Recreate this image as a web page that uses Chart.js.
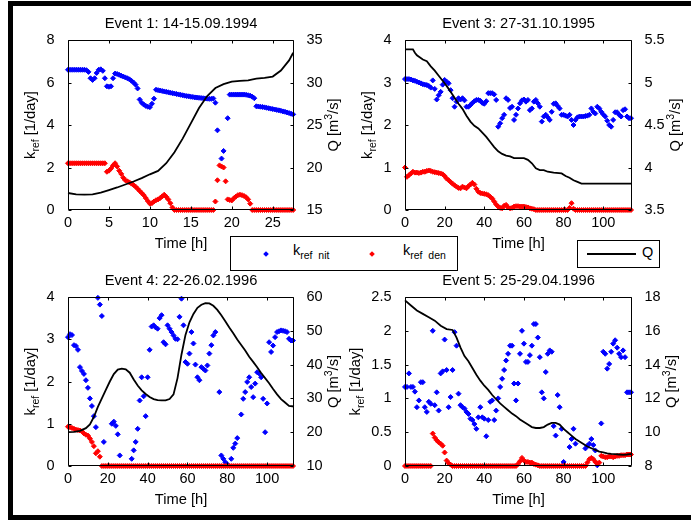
<!DOCTYPE html>
<html>
<head>
<meta charset="utf-8">
<script src="https://cdn.jsdelivr.net/npm/chart.js@4.4.1/dist/chart.umd.min.js"></script>
<style>
  body { margin: 0; width: 691px; height: 521px; overflow: hidden; position: relative; background: #fff;
         font-family: Arial, "Liberation Sans", Helvetica, sans-serif; color: #000; }
  canvas { position: absolute; }
  .frame { position: absolute; left: 8px; top: 1px; width: 720px; height: 509px;
           border: 5px solid #000; border-right: none; z-index: 3; }
  .legend { position: absolute; background: #fff; border: 1px solid #000; box-sizing: border-box; z-index: 2; }
  .legend span { position: absolute; font-size: 14.5px; white-space: pre; }
  .legend sub { font-size: 10.5px; vertical-align: -4px; }
  .dia { position: absolute; width: 4px; height: 4px; transform: rotate(45deg); }
</style>
</head>
<body>
<canvas id="ev1" width="345" height="262" style="left:0;top:0"></canvas>
<canvas id="ev3" width="346" height="262" style="left:345px;top:0"></canvas>
<canvas id="ev4" width="345" height="259" style="left:0;top:262px"></canvas>
<canvas id="ev5" width="346" height="259" style="left:345px;top:262px"></canvas>

<div class="legend" style="left:230px;top:236px;width:228px;height:35px">
  <div class="dia" style="left:33px;top:15px;background:#0000ff"></div>
  <span style="left:62px;top:5px">k<sub>ref  nit</sub></span>
  <div class="dia" style="left:139px;top:15px;background:#ff0000"></div>
  <span style="left:172px;top:5px">k<sub>ref  den</sub></span>
</div>
<div class="legend" style="left:577px;top:240px;width:83px;height:28px">
  <div style="position:absolute;left:9px;top:12px;width:49px;height:2px;background:#000"></div>
  <span style="left:64px;top:3px">Q</span>
</div>
<div class="frame"></div>

<script>
// k_ref values per time step; null where no estimate was plotted
const e1Step = 0.25;
const e1Nit = [6.6,6.6,6.6,6.6,6.6,6.6,6.6,6.6,6.6,6.58,
  6.5,6.2,6.12,6.2,6.45,6.6,6.62,6.55,6.2,5.82,
  5.8,5.82,6.2,6.42,6.4,6.36,6.32,6.28,6.24,6.2,
  6.15,6.08,6.0,5.9,5.72,5.2,5.05,4.96,4.9,4.86,
  4.84,5.0,5.24,5.66,5.64,5.62,5.6,5.58,5.56,5.54,
  5.52,5.5,5.48,5.46,5.44,5.42,5.4,5.38,5.36,5.35,
  5.33,5.32,5.3,5.29,5.28,5.27,5.26,5.25,5.24,5.23,
  5.23,5.25,5.05,3.75,null,2.42,2.78,null,4.32,5.43,
  5.43,5.43,5.43,5.43,5.43,5.43,5.43,5.42,5.4,5.38,
  5.33,5.26,4.88,4.87,4.86,4.85,4.83,4.81,4.79,4.77,
  4.75,4.73,4.71,4.69,4.67,4.64,4.62,4.59,4.56,4.53,4.5];
const e1Den = [2.2,2.2,2.2,2.2,2.2,2.2,2.2,2.2,2.2,2.2,
  2.2,2.2,2.2,2.2,2.2,2.2,2.2,2.2,2.2,1.8,
  1.85,1.95,2.1,2.2,2.05,1.85,1.7,1.52,1.4,1.35,
  1.3,1.24,1.18,1.1,1.0,0.9,0.8,0.7,0.56,0.42,
  0.3,0.32,0.4,0.46,0.5,0.56,0.64,0.72,0.62,0.5,
  0.32,0.12,0,0,0,0,0,0,0,0,
  0,0,0,0,0,0,0,0,0,0,
  0,0,0.4,1.4,2.1,2.05,2.0,1.35,0.5,0.47,
  0.45,0.55,0.63,0.7,0.72,0.7,0.66,0.6,0.5,0.3,
  0,0,0,0,0,0,0,0,0,0,
  0,0,0,0,0,0,0,0,0,0,0];
const e1QTime = [0,1,2,3,4,5,6,7,8,9,10,11,12,13,14,15,16,17,18,19,20,21,22,23,24,25,26,27,27.5];
const e1QFlow = [17.0,16.85,16.8,16.85,17.05,17.35,17.65,18.0,18.35,18.75,19.2,19.6,20.5,21.8,23.4,
  25.2,27.0,28.4,29.35,29.8,30.1,30.2,30.25,30.45,30.55,30.7,31.4,32.6,33.5];

const e3Step = 1;
const e3Nit = [3.08,3.08,3.08,3.07,3.05,3.04,3.02,3.0,2.98,2.96,
  2.95,2.94,2.92,2.88,3.05,2.85,2.6,2.7,2.78,2.95,
  3.06,3.02,2.98,2.82,2.63,2.43,2.55,2.63,2.6,2.63,
  2.58,2.43,2.43,2.47,2.52,2.56,2.59,2.59,2.57,2.52,
  2.5,2.56,2.75,2.75,2.75,2.72,2.59,1.96,2.04,2.16,
  2.24,2.63,2.59,2.4,2.43,2.12,2.24,2.39,2.51,2.58,
  2.6,2.55,2.59,2.35,2.39,2.55,2.59,2.51,2.43,2.08,
  2.2,2.24,2.18,2.12,2.31,2.5,2.51,2.45,2.39,2.24,
  2.24,2.22,2.2,2.24,2.12,2.0,2.12,2.18,2.2,2.2,
  2.2,2.21,2.22,2.24,2.39,2.31,2.27,2.43,2.39,2.31,
  2.25,2.2,2.1,2.0,1.96,2.12,2.3,2.3,2.24,2.2,
  2.35,2.37,2.2,2.16,2.16];
const e3Den = [1.0,0.78,0.82,0.86,0.9,0.88,0.88,0.87,0.88,0.9,
  0.9,0.92,0.93,0.92,0.9,0.89,0.88,0.87,0.86,0.84,
  0.8,0.74,0.7,0.66,0.62,0.58,0.55,0.52,0.51,0.55,
  0.53,0.51,0.56,0.6,0.64,0.6,0.5,0.43,0.4,0.39,
  0.38,0.37,0.35,0.31,0.27,0.2,0.13,0.08,0.05,0.04,
  0.1,0.12,0.06,0.04,0.05,0.08,0.09,0.09,0.08,0.08,
  0.08,0.07,0.06,0.04,0.03,0.02,0,0,0,0,
  0,0,0,0,0,0,0,0,0,0,
  0,0,0,0.05,0.16,0.03,0,0,0,0,
  0,0,0,0,0,0,0,0,0,0,
  0,0,0,0,0,0,0,0,0,0,
  0,0,0,0,0];
const e3QTime = [0,4,5,6,9,11,13,15,17,19,21,23,25,27,29,31,33,35,37,39,
  41,43,45,47,49,51,53,55,60,62,64,66,68,70,72,75,79,81,83,85,87,89,114.5];
const e3QFlow = [5.39,5.39,5.35,5.32,5.27,5.25,5.19,5.14,5.08,5.02,4.96,4.89,4.82,4.75,4.69,4.61,4.54,4.49,4.46,4.41,
  4.36,4.3,4.24,4.19,4.16,4.14,4.13,4.11,4.11,4.09,4.05,3.99,3.97,3.97,3.95,3.94,3.93,3.9,3.88,3.85,3.83,3.81,3.81];

const e4Step = 1;
const e4Nit = [3.05,3.12,3.1,2.86,2.84,2.75,2.34,2.25,2.18,2.03,
  1.85,1.6,1.42,1.18,0.92,3.98,3.82,3.55,0.57,null,
  null,null,1.0,1.05,0.95,0.75,0.25,null,null,null,
  null,null,0.17,0.37,0.57,0.88,1.55,2.1,1.65,1.18,
  2.1,2.75,3.3,3.33,3.28,3.25,3.5,3.57,2.93,2.88,
  3.33,3.25,3.17,3.09,3.01,3.0,3.53,3.96,3.33,2.46,
  2.42,2.66,3.17,2.9,2.4,2.1,2.03,2.34,2.3,2.26,
  2.38,2.66,2.86,3.09,3.17,null,1.75,0.25,0.17,0.09,
  0.04,null,0.17,0.43,0.53,0.66,null,1.22,1.59,1.75,
  1.99,2.1,1.87,1.63,1.95,2.22,2.19,2.1,1.59,0.8,
  1.48,2.93,2.7,2.85,3.05,3.17,3.19,3.21,3.2,3.19,
  3.17,3.01,2.97,2.97];
const e4Den = [0.93,0.92,0.9,0.88,0.86,0.85,0.84,0.82,0.77,0.74,
  0.72,0.65,0.57,0.47,0.3,0.35,0.22,0,0,0,
  0,0,0,0,0,0,0,0,0,0,
  0,0,0,0,0,0,0,0,0,0,
  0,0,0,0,0,0,0,0,0,0,
  0,0,0,0,0,0,0,0,0,0,
  0,0,0,0,0,0,0,0,0,0,
  0,0,0,0,0,0,0,0,0,0,
  0,0,0,0,0,0,0,0,0,0,
  0,0,0,0,0,0,0,0,0,0,
  0,0,0,0,0,0,0,0,0,0,
  0,0,0,0];
const e4QTime = [0,3,6,9,11,13,15,17,19,21,23,25,27,29,31,33,35,37,39,41,43,45,47,49,51,53,55,57,
  59,61,63,65,67,69,71,73,75,77,79,81,83,85,87,89,91,93,95,97,99,101,103,105,107,109,111,113.5];
const e4QFlow = [20.0,20.1,20.4,21.2,22.3,24.5,27.5,30.0,32.5,35.0,37.2,38.5,38.8,38.6,37.6,35.6,33.8,32.4,
  31.3,30.4,29.8,29.5,29.4,29.4,29.8,31.2,36.0,43.0,48.8,52.5,55.0,56.8,57.7,58.2,58.1,57.4,56.2,54.6,
  52.8,51.0,49.3,47.4,45.8,44.2,42.3,40.8,39.2,37.5,36.0,34.5,32.8,31.2,29.8,28.8,27.8,27.6];

const e5Step = 1;
const e5Nit = [1.17,1.17,1.37,1.17,1.17,1.1,0.87,0.97,1.24,1.24,
  0.87,0.8,0.95,0.92,2.0,0.9,1.09,0.82,1.37,1.4,
  1.87,1.42,0.87,1.02,1.42,1.98,1.78,1.07,0.9,0.87,
  0.85,0.8,0.77,0.7,0.68,0.62,0.55,0.72,0.87,0.72,
  0.7,0.44,0.68,0.95,0.97,0.68,0.82,1.0,1.17,1.29,
  1.42,1.56,1.66,1.78,1.78,1.22,0.97,1.22,1.66,2.0,
  1.81,1.54,1.54,1.64,1.78,2.1,2.1,1.9,1.61,1.09,
  1.0,1.39,1.66,1.71,1.69,0.59,0.45,1.05,0.87,0.55,
  0.06,null,null,0.28,0.4,0.55,0.33,null,null,null,
  null,0.26,0.3,0.33,0.4,0.31,0.23,0.01,null,0.63,
  1.69,1.66,1.44,1.51,1.69,1.81,1.86,1.75,1.66,1.61,
  1.71,1.61,1.09,1.09,1.09];
const e5Den = [0,0,0,0,0,0,0,0,0,0,
  0,0,0,0,0.48,0.42,0.38,0.35,0.33,0.3,
  0.2,0.08,0.04,0.02,0,0,0,0,0,0,
  0,0,0,0,0,0,0,0,0,0,
  0,0,0,0,0,0,0,0,0,0,
  0,0,0,0,0,0,0,0.03,0.07,0.12,
  0.08,0.06,0.06,0.05,0.05,0.03,0.02,0.01,0,0,
  0,0,0,0,0,0,0,0,0,0,
  0,0,0,0,0,0,0,0,0,0,
  0,0,0.05,0.1,0.12,0.1,0.06,0.04,0.05,0.15,
  0.14,0.13,0.13,0.14,0.14,0.13,0.14,0.15,0.15,0.16,
  0.16,0.16,0.17,0.17,0.17];
const e5QTime = [0,3,6,9,12,15,18,21,24,26,28,30,32,34,36,38,40,42,44,46,48,50,52,54,56,58,60,
  62,64,66,68,70,72,74,76,78,80,82,84,86,88,90,92,94,96,98,100,102,104,106,108,110,112,114.5];
const e5QFlow = [17.8,17.5,17.2,17.0,16.8,16.6,16.3,16.1,16.05,15.6,15.0,14.5,14.2,13.8,13.4,13.05,12.75,
  12.5,12.2,11.95,11.7,11.5,11.3,11.1,10.95,10.75,10.6,10.45,10.3,10.25,10.25,10.3,10.45,10.55,10.55,
  10.45,10.2,10.0,9.8,9.6,9.45,9.3,9.15,9.05,8.95,8.85,8.8,8.75,8.72,8.7,8.68,8.66,8.68,8.72];

// tick labels
const timeTicksShort = [0, 5, 10, 15, 20, 25];
const timeTicksLong = [0, 20, 40, 60, 80, 100];
const e1KTicks = [0, 2, 4, 6, 8];
const e1QTicks = [15, 20, 25, 30, 35];
const e3KTicks = [0, 1, 2, 3, 4];
const e3QTicks = [3.5, 4, 4.5, 5, 5.5];
const e4KTicks = [0, 1, 2, 3, 4];
const e4QTicks = [10, 20, 30, 40, 50, 60];
const e5KTicks = [0, 0.5, 1, 1.5, 2, 2.5];
const e5QTicks = [8, 10, 12, 14, 16, 18];

const FONT = 'Arial, "Liberation Sans", Helvetica, sans-serif';
const TICK_SIZE = 14.5;
const LABEL_SIZE = 14.7;
const TICK_LEN = 3;

// box around the axes, inward ticks and all axis captions
const axesDecor = {
  id: 'axesDecor',
  afterDraw(chart, args, o) {
    const { ctx, chartArea: a, scales } = chart;
    const L = Math.round(a.left) + 0.5, R = Math.round(a.right) - 0.5;
    const T = Math.round(a.top) + 0.5, B = Math.round(a.bottom) - 0.5;
    ctx.save();
    ctx.strokeStyle = '#000';
    ctx.lineWidth = 1;
    ctx.beginPath();
    ctx.rect(L, T, R - L, B - T);
    scales.x.ticks.forEach(t => {
      const px = Math.round(scales.x.getPixelForValue(t.value)) + 0.5;
      ctx.moveTo(px, B); ctx.lineTo(px, B - TICK_LEN);
      ctx.moveTo(px, T); ctx.lineTo(px, T + TICK_LEN);
    });
    scales.y.ticks.forEach(t => {
      const py = Math.round(scales.y.getPixelForValue(t.value)) + 0.5;
      ctx.moveTo(L, py); ctx.lineTo(L + TICK_LEN, py);
    });
    scales.y1.ticks.forEach(t => {
      const py = Math.round(scales.y1.getPixelForValue(t.value)) + 0.5;
      ctx.moveTo(R, py); ctx.lineTo(R - TICK_LEN, py);
    });
    ctx.stroke();

    const big = LABEL_SIZE + 'px ' + FONT;
    const small = '10.5px ' + FONT;
    const midX = (a.left + a.right) / 2, midY = (a.top + a.bottom) / 2;
    ctx.fillStyle = '#000';
    ctx.font = big;
    ctx.textAlign = 'center';
    ctx.textBaseline = 'alphabetic';
    ctx.fillText(o.title, midX, a.top - 12);
    ctx.fillText('Time [h]', midX, a.bottom + 38);

    // widest tick label on each side decides where the captions sit
    ctx.font = TICK_SIZE + 'px ' + FONT;
    const widest = s => Math.max(...s.ticks.map(t => ctx.measureText(t.label).width));
    const leftX = a.left - 5.5 - widest(scales.y) - 24.5;
    const rightX = a.right + 4.5 + widest(scales.y1) + 18;

    const drawRotated = (cx, parts) => {
      ctx.save();
      ctx.translate(cx, midY);
      ctx.rotate(-Math.PI / 2);
      ctx.textAlign = 'left';
      let total = 0;
      parts.forEach(p => { ctx.font = p[1]; total += ctx.measureText(p[0]).width; });
      let x = -total / 2;
      parts.forEach(p => {
        ctx.font = p[1];
        ctx.fillText(p[0], x, 5 + p[2]);
        x += ctx.measureText(p[0]).width;
      });
      ctx.restore();
    };
    drawRotated(leftX, [['k', big, 0], ['ref', small, 4], [' [1/day]', big, 0]]);
    drawRotated(rightX, [['Q [m', big, 0], ['3', small, -6], ['/s]', big, 0]]);
    ctx.restore();
  }
};

function toPoints(values, step) {
  const pts = [];
  values.forEach((v, i) => { if (v !== null) pts.push({ x: i * step, y: v }); });
  return pts;
}

function makePanel(id, p) {
  const tickFont = { family: FONT, size: TICK_SIZE };
  const plain = v => String(v);
  const fixTicks = list => scale => { scale.ticks = list.map(v => ({ value: v })); };
  const marker = color => ({
    type: 'scatter', yAxisID: 'y', pointStyle: 'rectRot', pointRadius: 2.5,
    borderWidth: 1, backgroundColor: color, borderColor: color, clip: false
  });
  new Chart(document.getElementById(id), {
    type: 'scatter',
    data: {
      datasets: [
        Object.assign(marker('#0000ff'), { data: toPoints(p.nit, p.step), order: 3 }),
        Object.assign(marker('#ff0000'), { data: toPoints(p.den, p.step), order: 2 }),
        {
          type: 'line', yAxisID: 'y1', order: 1, clip: false,
          data: p.qTime.map((t, i) => ({ x: t, y: p.qFlow[i] })),
          borderColor: '#000', borderWidth: 1.8, pointRadius: 0, fill: false, tension: 0
        }
      ]
    },
    options: {
      responsive: false,
      animation: false,
      events: [],
      layout: { padding: { top: p.box.top, left: 0, right: 0, bottom: 0 } },
      plugins: {
        legend: { display: false },
        tooltip: { enabled: false },
        axesDecor: { title: p.title }
      },
      scales: {
        x: {
          type: 'linear', min: 0, max: p.xMax,
          grid: { display: false }, border: { display: false },
          ticks: { font: tickFont, color: '#000', padding: -4, maxRotation: 0, autoSkip: false, callback: plain },
          afterBuildTicks: fixTicks(p.xTicks),
          afterFit: s => { s.height = p.box.bottom; }
        },
        y: {
          type: 'linear', position: 'left', min: p.kTicks[0], max: p.kTicks[p.kTicks.length - 1],
          grid: { display: false }, border: { display: false },
          ticks: { font: tickFont, color: '#000', padding: 5.5, callback: plain },
          afterBuildTicks: fixTicks(p.kTicks),
          afterFit: s => { s.width = p.box.left; }
        },
        y1: {
          type: 'linear', position: 'right', min: p.qTicks[0], max: p.qTicks[p.qTicks.length - 1],
          grid: { display: false }, border: { display: false },
          ticks: { font: tickFont, color: '#000', padding: 4.5, callback: plain },
          afterBuildTicks: fixTicks(p.qTicks),
          afterFit: s => { s.width = p.box.right; }
        }
      }
    },
    plugins: [axesDecor]
  });
}

makePanel('ev1', {
  title: 'Event 1: 14-15.09.1994', step: e1Step, nit: e1Nit, den: e1Den,
  qTime: e1QTime, qFlow: e1QFlow, xMax: 27.6, xTicks: timeTicksShort,
  kTicks: e1KTicks, qTicks: e1QTicks, box: { left: 68, right: 51, top: 40, bottom: 52 }
});
makePanel('ev3', {
  title: 'Event 3: 27-31.10.1995', step: e3Step, nit: e3Nit, den: e3Den,
  qTime: e3QTime, qFlow: e3QFlow, xMax: 114.5, xTicks: timeTicksLong,
  kTicks: e3KTicks, qTicks: e3QTicks, box: { left: 60, right: 59, top: 40, bottom: 52 }
});
makePanel('ev4', {
  title: 'Event 4: 22-26.02.1996', step: e4Step, nit: e4Nit, den: e4Den,
  qTime: e4QTime, qFlow: e4QFlow, xMax: 113.5, xTicks: timeTicksLong,
  kTicks: e4KTicks, qTicks: e4QTicks, box: { left: 68, right: 51, top: 35, bottom: 55 }
});
makePanel('ev5', {
  title: 'Event 5: 25-29.04.1996', step: e5Step, nit: e5Nit, den: e5Den,
  qTime: e5QTime, qFlow: e5QFlow, xMax: 114.5, xTicks: timeTicksLong,
  kTicks: e5KTicks, qTicks: e5QTicks, box: { left: 60, right: 59, top: 35, bottom: 55 }
});
</script>
</body>
</html>
